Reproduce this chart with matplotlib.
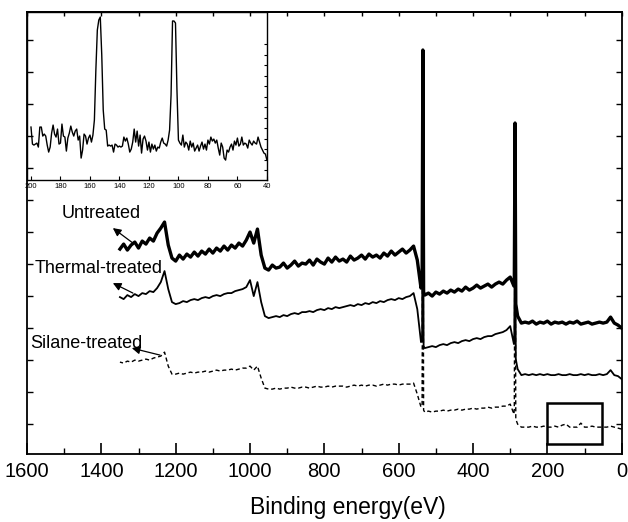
import numpy as np
import matplotlib.pyplot as plt
from matplotlib.patches import Rectangle
from matplotlib.ticker import MultipleLocator, NullFormatter

plt.rcParams["font.family"] = ["Liberation Sans", "DejaVu Sans"]

# survey spectra on a 10 eV grid (1350 -> 0 eV), a.u.
ENERGY = np.arange(1350, -1, -10)

UNTREATED = [
    205, 210, 204, 209, 212, 206, 213, 210, 216, 213,
    221, 226, 232, 209, 196, 193, 199, 195, 200, 197,
    202, 198, 203, 200, 205, 201, 206, 203, 208, 204,
    209, 206, 211, 208, 214, 222, 211, 225, 199, 186,
    184, 189, 186, 187, 191, 186, 189, 193, 188, 191,
    190, 194, 189, 195, 192, 190, 196, 192, 197, 193,
    195, 192, 198, 194, 196, 199, 195, 200, 197, 199,
    196, 201, 198, 203, 199, 202, 205, 201, 204, 208,
    194, 166, 159, 161, 158, 162, 160, 163, 161, 164,
    162, 165, 163, 167, 164, 166, 169, 166, 168, 170,
    167, 170, 172, 170, 174, 177, 168, 138, 131, 132,
    131, 133, 130, 132, 131, 133, 130, 132, 131, 132,
    130, 132, 131, 133, 130, 131, 132, 130, 131, 132,
    131, 132, 137, 131, 129, 126,
]
THERMAL = [
    157, 155, 159, 157, 160, 158, 161, 160, 163, 162,
    166, 172, 183, 165, 152, 150, 151, 153, 152, 154,
    155, 154, 156, 157, 156, 158, 159, 158, 160, 161,
    161, 163, 164, 165, 167, 174, 158, 172, 152, 138,
    136, 137, 138, 137, 139, 138, 140, 141, 140, 142,
    142, 143, 142, 144, 145, 144, 146, 145, 147, 146,
    147, 148, 149, 148, 150, 149, 151, 150, 152, 151,
    153, 152, 154, 155, 154, 156, 155, 157, 158, 161,
    145, 112, 106, 107, 108, 107, 109, 110, 109, 111,
    112, 111, 113, 114, 113, 115, 116, 115, 117, 118,
    118, 120, 121, 122, 124, 128, 110, 85, 79, 80,
    79, 80, 79, 80, 79, 80, 79, 79, 80, 79,
    79, 80, 79, 79, 80, 79, 80, 79, 79, 80,
    79, 80, 84, 79, 78, 75,
]
SILANE = [
    92, 91, 93, 92, 94, 93, 94, 95, 94, 96,
    97, 98, 102, 88, 80, 80, 81, 80, 81, 82,
    81, 82, 82, 83, 82, 83, 84, 83, 84, 84,
    85, 84, 85, 86, 86, 88, 84, 88, 76, 66,
    65, 65, 66, 65, 66, 66, 67, 66, 66, 67,
    67, 66, 67, 68, 67, 67, 68, 67, 68, 68,
    68, 67, 68, 69, 68, 69, 68, 69, 69, 68,
    69, 70, 69, 70, 70, 69, 70, 70, 70, 71,
    60, 47, 42, 43, 42, 43, 43, 44, 43, 44,
    44, 45, 44, 45, 45, 46, 45, 46, 46, 47,
    46, 47, 47, 48, 48, 50, 40, 30, 27, 27,
    27, 28, 27, 27, 28, 27, 27, 28, 27, 29,
    30, 27, 27, 27, 31, 27, 27, 28, 27, 27,
    27, 27, 28, 27, 26, 25,
]

# narrow O 1s and C 1s lines
O1S_E = [537, 535, 533]
C1S_E = [289, 287, 285]
UNTREATED_O1S = [170, 404, 162]
UNTREATED_C1S = [172, 331, 150]
THERMAL_O1S = [115, 380, 108]
THERMAL_C1S = [120, 300, 95]
SILANE_O1S = [50, 360, 44]
SILANE_C1S = [45, 280, 35]

# inset: 200 -> 40 eV, 1 eV steps
INSET_E = np.arange(200, 39, -1)
INSET_I = [
    53, 36, 35, 36, 37, 33, 53, 53, 44, 46,
    44, 35, 28, 33, 47, 55, 46, 43, 51, 36,
    37, 56, 44, 43, 29, 42, 47, 54, 48, 44,
    49, 51, 40, 44, 22, 30, 46, 44, 36, 42,
    45, 38, 45, 60, 110, 150, 160, 163, 125, 70,
    51, 50, 34, 35, 34, 35, 28, 36, 35, 33,
    34, 33, 34, 43, 39, 42, 36, 28, 31, 38,
    51, 38, 49, 34, 45, 27, 41, 44, 39, 30,
    38, 28, 36, 31, 35, 29, 33, 32, 38, 42,
    37, 36, 34, 40, 50, 85, 159, 159, 157, 90,
    40, 37, 35, 45, 33, 38, 36, 30, 39, 33,
    37, 29, 32, 35, 29, 34, 38, 31, 36, 30,
    40, 36, 43, 39, 41, 37, 40, 32, 25, 37,
    33, 22, 20, 30, 28, 33, 36, 30, 39, 35,
    42, 34, 36, 43, 35, 37, 36, 32, 40, 37,
    35, 39, 37, 36, 43, 38, 33, 30, 27, 26,
    20,
]

LABELS = ["Untreated", "Thermal-treated", "Silane-treated"]


def full_curve(base, o1s, c1s):
    e = np.concatenate([ENERGY, O1S_E, C1S_E])
    y = np.concatenate([base, o1s, c1s])
    order = np.argsort(e)
    return e[order], y[order]


fig = plt.figure(figsize=(6.28, 5.22), dpi=100)
ax = fig.add_axes([0.043, 0.130, 0.947, 0.847])

e, y = full_curve(UNTREATED, UNTREATED_O1S, UNTREATED_C1S)
ax.plot(e, y, color="black", lw=2.4)
e, y = full_curve(THERMAL, THERMAL_O1S, THERMAL_C1S)
ax.plot(e, y, color="black", lw=1.3)
e, y = full_curve(SILANE, SILANE_O1S, SILANE_C1S)
ax.plot(e, y, color="black", lw=1.0, ls=(0, (3, 2)))

ax.add_patch(Rectangle((200, 10), -146, 41, fill=False, ec="black", lw=1.8))

# labels with arrows
label_pos = [(1401, 241), (1408, 186), (1441, 111)]
arrows = [((1315, 211), (1369, 226)), ((1315, 161), (1369, 171)), ((1242, 99), (1318, 106))]
for text, pos, (tail, head) in zip(LABELS, label_pos, arrows):
    ax.text(pos[0], pos[1], text, fontsize=13, ha="center", va="center")
    ax.annotate("", xy=head, xytext=tail,
                arrowprops=dict(arrowstyle="-|>", color="black", lw=0.9,
                                mutation_scale=12, shrinkA=0, shrinkB=0))

ax.set_xlim(1600, 0)
ax.set_ylim(0, 442)
ax.xaxis.set_major_locator(MultipleLocator(200))
ax.xaxis.set_minor_locator(MultipleLocator(100))
ax.set_yticks(np.arange(30, 442, 32))
ax.yaxis.set_major_formatter(NullFormatter())
ax.tick_params(axis="x", which="major", direction="in", length=8, width=1.2,
               labelsize=14.5, pad=6)
ax.tick_params(axis="x", which="minor", direction="in", length=4, width=1.0)
ax.tick_params(axis="y", which="both", direction="in", length=4, width=1.0,
               left=True, right=True)
top = ax.secondary_xaxis("top")
top.xaxis.set_major_locator(MultipleLocator(100))
top.xaxis.set_major_formatter(NullFormatter())
top.tick_params(direction="in", length=3, width=1.0)
for s in list(ax.spines.values()) + list(top.spines.values()):
    s.set_linewidth(1.3)

ax.set_xlabel("Binding energy(eV)", fontsize=16.5)
ax.xaxis.set_label_coords(0.54, -0.095)

# inset
axin = fig.add_axes([0.043, 0.655, 0.382, 0.322])
axin.patch.set_alpha(0)
axin.plot(INSET_E, INSET_I, color="black", lw=1.0)
axin.set_xlim(202.7, 40)
axin.set_ylim(0, 168)
axin.xaxis.set_major_locator(MultipleLocator(20))
axin.set_yticks(np.arange(10, 140, 10.5))
axin.yaxis.set_major_formatter(NullFormatter())
axin.tick_params(axis="x", direction="in", length=3, width=0.8, labelsize=5.5, pad=2)
axin.tick_params(axis="y", direction="in", length=2.5, width=0.8, left=False, right=True)
for s in axin.spines.values():
    s.set_linewidth(1.0)

fig.savefig("out.png", dpi=100)
